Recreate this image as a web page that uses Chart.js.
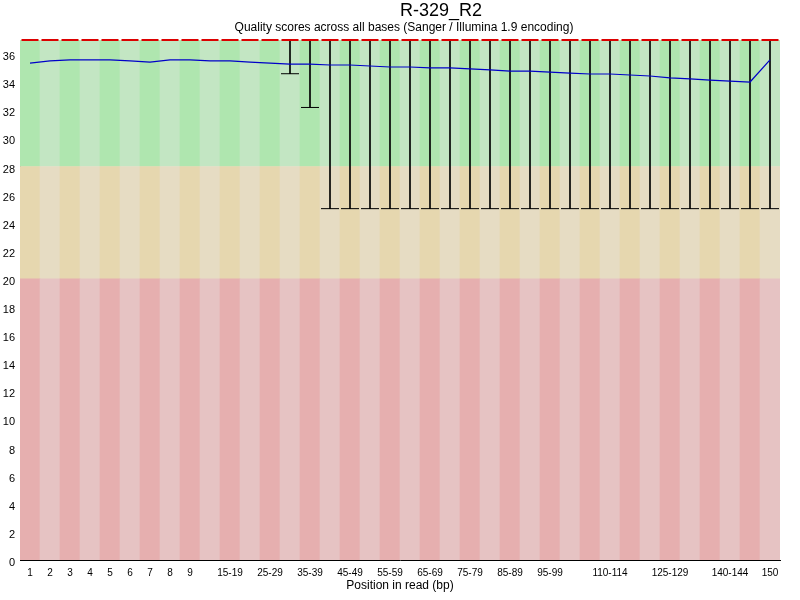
<!DOCTYPE html>
<html>
<head>
<meta charset="utf-8">
<title>R-329_R2 per base quality</title>
<script src="https://cdn.jsdelivr.net/npm/chart.js@4/dist/chart.umd.min.js"></script>
<style>
    html, body { margin: 0; padding: 0; background: #fff; }
</style>
</head>
<body>
<canvas id="qualityChart" width="800" height="600"></canvas>
<script>
// read positions (FastQC bins)
var positions = ['1', '2', '3', '4', '5', '6', '7', '8', '9',
    '10-14', '15-19', '20-24', '25-29', '30-34', '35-39', '40-44', '45-49',
    '50-54', '55-59', '60-64', '65-69', '70-74', '75-79', '80-84', '85-89',
    '90-94', '95-99', '100-104', '105-109', '110-114', '115-119', '120-124',
    '125-129', '130-134', '135-139', '140-144', '145-149', '150'];

// only these get a tick label, like in the original
var shownLabels = ['1', '2', '3', '4', '5', '6', '7', '8', '9', '15-19', '25-29',
    '35-39', '45-49', '55-59', '65-69', '75-79', '85-89', '95-99',
    '110-114', '125-129', '140-144', '150'];

var meanQuality = [35.36, 35.51, 35.58, 35.58, 35.58, 35.51, 35.43, 35.58, 35.58,
    35.51, 35.51, 35.43, 35.36, 35.29, 35.29, 35.22, 35.22, 35.15, 35.08,
    35.08, 35.01, 35.01, 34.94, 34.87, 34.79, 34.79, 34.72, 34.65, 34.58,
    34.58, 34.51, 34.44, 34.30, 34.23, 34.15, 34.08, 34.01, 35.58];

var medianQuality = [37, 37, 37, 37, 37, 37, 37, 37, 37, 37, 37, 37, 37, 37, 37, 37, 37,
    37, 37, 37, 37, 37, 37, 37, 37, 37, 37, 37, 37, 37, 37, 37, 37, 37, 37, 37, 37, 37];

// 10th / 90th percentiles
var lowerWhisker = [37, 37, 37, 37, 37, 37, 37, 37, 37, 37, 37, 37, 37, 34.6, 32.2,
    25, 25, 25, 25, 25, 25, 25, 25, 25, 25, 25, 25, 25, 25, 25, 25, 25, 25, 25, 25, 25, 25, 25];
var upperWhisker = [37, 37, 37, 37, 37, 37, 37, 37, 37, 37, 37, 37, 37, 37, 37, 37, 37,
    37, 37, 37, 37, 37, 37, 37, 37, 37, 37, 37, 37, 37, 37, 37, 37, 37, 37, 37, 37, 37];

// quality zones: bad / ok / good
var zoneLimits = [0, 20, 28, 37];
var yTicks = [0, 2, 4, 6, 8, 10, 12, 14, 16, 18, 20, 22, 24, 26, 28, 30, 32, 34, 36];

(function () {
    'use strict';

    var titleText = 'R-329_R2';
    var subtitleText = 'Quality scores across all bases (Sanger / Illumina 1.9 encoding)';

    var zoneColors = [
        ['rgb(230,175,175)', 'rgb(230,195,195)'],
        ['rgb(230,215,175)', 'rgb(230,220,195)'],
        ['rgb(175,230,175)', 'rgb(195,230,195)']
    ];

    function zoneDataset(z) {
        return {
            type: 'bar',
            data: positions.map(function () { return [zoneLimits[z], zoneLimits[z + 1]]; }),
            backgroundColor: positions.map(function (p, i) { return zoneColors[z][i % 2]; }),
            borderWidth: 0,
            barPercentage: 1,
            categoryPercentage: 1,
            grouped: false,
            order: 10 + z
        };
    }

    // nudge the titles to where FastQC puts them
    var titleShift = {
        id: 'titleShift',
        afterLayout: function (chart) {
            chart.boxes.forEach(function (box) {
                if (!box.options || box.position !== 'top') return;
                var dx = 0;
                if (box.options.text === titleText) dx = 51;
                if (box.options.text === subtitleText) dx = 14;
                box.left += dx;
                box.right += dx;
            });
        }
    };

    new Chart(document.getElementById('qualityChart').getContext('2d'), {
        type: 'bar',
        data: {
            labels: positions,
            datasets: [
                {
                    type: 'line',
                    data: meanQuality,
                    borderColor: 'rgb(0,0,200)',
                    borderWidth: 1.2,
                    pointRadius: 0,
                    tension: 0,
                    order: 1
                },
                {
                    type: 'line',
                    data: medianQuality,
                    showLine: false,
                    pointStyle: 'line',
                    pointRadius: 8.5,
                    pointBorderWidth: 2,
                    pointBorderColor: 'rgb(220,0,0)',
                    clip: false,
                    order: 2
                },
                {
                    type: 'line',
                    data: lowerWhisker.map(function (v, i) { return v < upperWhisker[i] ? v : null; }),
                    showLine: false,
                    pointStyle: 'line',
                    pointRadius: 9,
                    pointBorderWidth: 1,
                    pointBorderColor: '#000',
                    order: 3
                },
                {
                    type: 'bar',
                    data: lowerWhisker.map(function (v, i) { return [v, upperWhisker[i]]; }),
                    backgroundColor: '#000',
                    borderWidth: 0,
                    barThickness: 1,
                    grouped: false,
                    order: 4
                },
                zoneDataset(0),
                zoneDataset(1),
                zoneDataset(2)
            ]
        },
        options: {
            responsive: false,
            animation: false,
            layout: { padding: { left: 0, right: 20, top: 0, bottom: 0 } },
            plugins: {
                legend: { display: false },
                tooltip: { enabled: false },
                title: {
                    display: true,
                    text: titleText,
                    color: '#000',
                    font: { family: 'Liberation Sans', size: 18, weight: 'normal', lineHeight: 1.0 },
                    padding: { top: 2, bottom: 0 }
                },
                subtitle: {
                    display: true,
                    text: subtitleText,
                    color: '#000',
                    font: { family: 'Liberation Sans', size: 12, lineHeight: 1.0 },
                    padding: { top: 2, bottom: 6 }
                }
            },
            scales: {
                x: {
                    offset: true,
                    grid: { display: false, drawTicks: false },
                    border: { display: true, color: '#000', width: 1 },
                    ticks: {
                        autoSkip: false,
                        maxRotation: 0,
                        padding: 7,
                        color: '#000',
                        font: { family: 'Liberation Sans', size: 10 },
                        callback: function (value) {
                            var lab = positions[value];
                            return shownLabels.indexOf(lab) >= 0 ? lab : '';
                        }
                    },
                    title: {
                        display: true,
                        text: 'Position in read (bp)',
                        color: '#000',
                        font: { family: 'Liberation Sans', size: 12 },
                        padding: { top: 0, bottom: 7 }
                    },
                    afterFit: function (scale) { scale.height = 40; }
                },
                y: {
                    min: zoneLimits[0],
                    max: zoneLimits[zoneLimits.length - 1],
                    grid: { display: false, drawTicks: false },
                    border: { display: true, color: '#000', width: 1 },
                    afterBuildTicks: function (scale) {
                        scale.ticks = yTicks.map(function (v) { return { value: v }; });
                    },
                    ticks: {
                        padding: 5,
                        labelOffset: 3,
                        color: '#000',
                        font: { family: 'Liberation Sans', size: 11 }
                    },
                    afterFit: function (scale) { scale.width = 20; }
                }
            }
        },
        plugins: [titleShift]
    });
})();
</script>
</body>
</html>
